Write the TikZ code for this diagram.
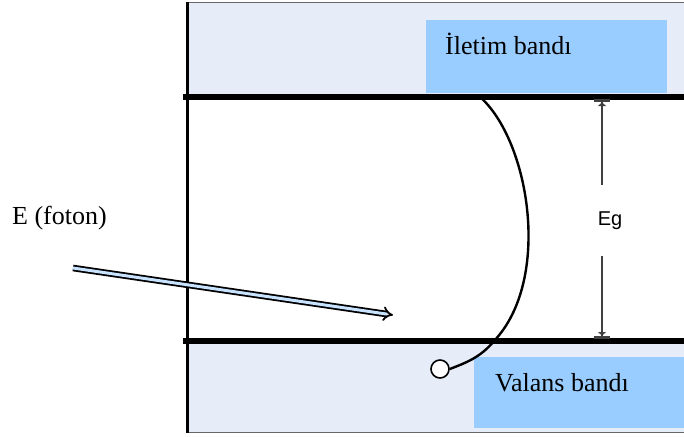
\documentclass[tikz,border=0pt]{standalone}
\usepackage{fontspec}
\setmainfont{Liberation Serif}
\newfontfamily\egfont{Liberation Sans}
\usetikzlibrary{arrows.meta,positioning}
\definecolor{bandfill}{RGB}{230,237,248}
\definecolor{labelfill}{RGB}{153,204,255}

\begin{document}
\begin{tikzpicture}[
    x=1pt, y=-1pt,
    bandlabel/.style={rectangle, fill=labelfill, draw=none, inner sep=0pt, anchor=north west},
    bandtext/.style={anchor=base west, inner sep=0pt, font=\fontsize{26}{30}\selectfont},
    edge/.style={line width=6.5pt},
    jump/.style={line width=2.4pt},
    electron/.style={circle, draw, line width=1.6pt, fill=white, minimum size=18pt, inner sep=0pt},
    photon/.style={draw=black, line width=1.8pt, double=white!45!labelfill, double distance=3pt, -{Implies[length=10pt,width=18pt]}},
    egarrow/.style={draw=black!75, line width=1.5pt, -{Latex[length=4pt,width=9pt]Bar[width=16pt,line width=3pt]}}
  ]
    \useasboundingbox (0,0) rectangle (684,436);
    % bands
    \fill[bandfill] (187,3) rectangle (684,94);
    \fill[bandfill] (187,344) rectangle (684,432);
    \node[bandlabel, minimum width=241pt, minimum height=73pt] (cbbox) at (426,20) {};
    \node[bandlabel, minimum width=210pt, minimum height=71pt] (vbbox) at (474,357) {};
    \node[bandtext] (cb) at (445,55) {İletim bandı};
    \node[bandtext] (vb) at (495,391) {Valans bandı};
    % frame and band edges
    \draw[black!60, line width=1pt] (187,3) -- (684,3);
    \draw[black!60, line width=1pt] (187,432) -- (684,432);
    \draw[edge] (183,97) -- (684,97);
    \draw[edge] (183,341) -- (684,341);
    \draw[line width=3pt] (187,2) -- (187,433);
    % band gap
    \node[inner sep=0pt, minimum height=71pt, font=\egfont\fontsize{20}{24}\selectfont] (eg) at (610,220.5) {Eg};
    \coordinate (gtop) at (602,99);
    \coordinate (gbot) at (602,339);
    \draw[egarrow] (gtop |- eg.north) -- (gtop);
    \draw[egarrow] (gbot |- eg.south) -- (gbot);
    % excitation
    \node[electron] (el) at (440,369) {};
    \coordinate (exc) at (479,96);
    \draw[jump] (exc) .. controls (530,140) and (552,280) .. (494,341)
      .. controls (480,358) and (465,363) .. (el.east);
    % photon
    \node[anchor=base west, inner sep=0pt, font=\fontsize{26}{30}\selectfont] (ph) at (12,224) {E (foton)};
    \coordinate (ph0) at (73,268);
    \coordinate (ph1) at (393,315);
    \draw[photon] (ph0) -- (ph1);
\end{tikzpicture}
\end{document}
